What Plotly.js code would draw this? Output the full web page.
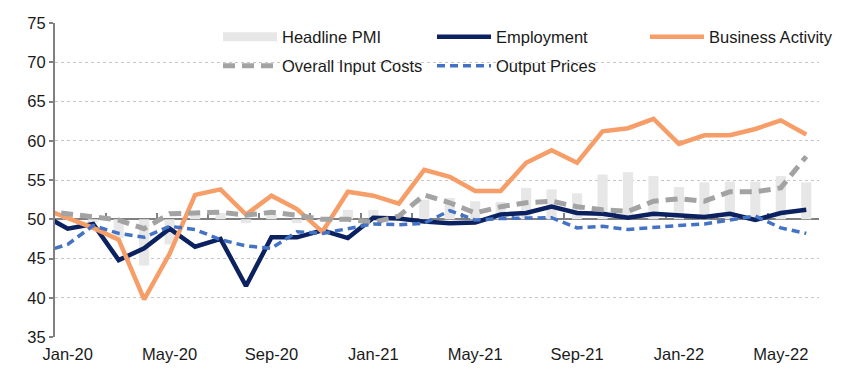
<!DOCTYPE html>
<html><head><meta charset="utf-8">
<script src="https://cdn.plot.ly/plotly-3.0.1.min.js"></script>
<style>html,body{margin:0;padding:0;background:#fff}#chart{width:855px;height:375px}</style>
</head><body><div id="chart"></div>
<script>
const months = ["Dec-19","Jan-20","Feb-20","Mar-20","Apr-20","May-20","Jun-20","Jul-20","Aug-20","Sep-20","Oct-20","Nov-20","Dec-20","Jan-21","Feb-21","Mar-21","Apr-21","May-21","Jun-21","Jul-21","Aug-21","Sep-21","Oct-21","Nov-21","Dec-21","Jan-22","Feb-22","Mar-22","Apr-22","May-22","Jun-22"];
const tickLabels = ["Jan-20","May-20","Sep-20","Jan-21","May-21","Sep-21","Jan-22","May-22"];
const headlinePMI = [null,50.4,49.6,47.6,44.1,46.8,50.6,50.8,49.5,50.7,49.5,49.8,51.2,51.2,50.6,52.5,52.7,52.3,52.2,54.0,53.8,53.3,55.7,56.0,55.5,54.1,54.7,54.8,54.8,55.5,54.7];
const employment = [50.6,48.8,49.4,44.8,46.3,48.8,46.5,47.5,41.5,47.7,47.7,48.6,47.6,50.2,50.1,49.7,49.5,49.6,50.6,50.8,51.6,50.8,50.7,50.2,50.7,50.5,50.3,50.7,49.9,50.8,51.2];
const businessActivity = [51.4,50.2,48.9,47.4,39.8,45.6,53.1,53.8,50.6,53.0,51.3,48.4,53.5,53.0,52.0,56.3,55.4,53.6,53.6,57.2,58.8,57.2,61.2,61.6,62.8,59.6,60.7,60.7,61.5,62.6,60.8];
const inputCosts = [51.1,50.7,50.2,49.9,48.8,50.7,50.8,50.9,50.5,50.9,50.5,50.0,50.0,49.6,50.4,53.1,52.1,50.8,51.6,52.1,52.3,51.6,51.2,51.0,52.3,52.6,52.3,53.5,53.5,54.0,58.0];
const outputPrices = [45.8,46.8,49.2,48.2,47.7,49.1,48.7,47.4,46.6,46.3,48.4,48.2,48.8,49.4,49.3,49.5,51.1,49.9,50.1,50.2,50.2,48.9,49.1,48.7,49.0,49.2,49.4,49.9,50.4,48.9,48.2];

const baseline = 50;
const yMin = 35, yMax = 75;
const FONT = 'Arial, "Liberation Sans", sans-serif';

const traces = [
  {type:'bar', name:'Headline PMI', x:months, y:headlinePMI.map(v => v == null ? null : v - baseline), base:baseline,
   marker:{color:'#e7e7e7'}, showlegend:false, hoverinfo:'skip'},
  {type:'scatter', mode:'lines', name:'Headline PMI', x:[months[1]], y:[null], line:{color:'#e7e7e7', width:9}, legend:'legend'},
  {type:'scatter', mode:'lines', name:'Employment', x:months, y:employment, line:{color:'#0b2160', width:4.5}, legend:'legend2'},
  {type:'scatter', mode:'lines', name:'Business Activity', x:months, y:businessActivity, line:{color:'#f79d68', width:4.5}, legend:'legend3'},
  {type:'scatter', mode:'lines', name:'Overall Input Costs', x:months, y:inputCosts, line:{color:'#a3a3a3', width:5, dash:'12px,7px'}, legend:'legend4'},
  {type:'scatter', mode:'lines', name:'Output Prices', x:months, y:outputPrices, line:{color:'#4472c4', width:3.5, dash:'8px,5px'}, legend:'legend5'},
  {type:'scatter', mode:'lines', x:[1], y:[null], xaxis:'x2', showlegend:false, hoverinfo:'skip'}
];

function leg(x, y) {
  return {orientation:'h', x:x, y:y, xanchor:'left', yanchor:'middle', itemwidth:54,
    font:{family:FONT, size:16.5, color:'#1a1a1a'}, bgcolor:'rgba(0,0,0,0)', borderwidth:0};
}
const row1 = 0.955, row2 = 0.863;
const col1 = (223 - 60) / 764, col2 = (437 - 60) / 764, col3 = (650 - 60) / 764;

const layout = {
  width:855, height:375,
  margin:{l:55, r:36, t:23, b:38},
  paper_bgcolor:'#ffffff', plot_bgcolor:'#ffffff',
  font:{family:FONT, size:16.5, color:'#1a1a1a'},
  bargap:0.6,
  showlegend:true,
  xaxis:{type:'category', range:[0.5, months.length - 0.5], tickmode:'array', tickvals:tickLabels, ticktext:tickLabels,
         showline:false, showgrid:false, zeroline:false, ticks:'', ticklabelstandoff:5, tickfont:{size:16.5, color:'#1a1a1a'}},
  xaxis2:{overlaying:'x', anchor:'free', position:(baseline - yMin) / (yMax - yMin), type:'linear',
          range:[0.5, months.length - 0.5], showline:true, linecolor:'#808080', linewidth:2,
          ticks:'inside', ticklen:5, tickwidth:2, tickcolor:'#808080', tickmode:'linear', tick0:0.5, dtick:2,
          showticklabels:false, showgrid:false, zeroline:false, layer:'below traces'},
  yaxis:{range:[yMin, yMax], tickmode:'linear', tick0:35, dtick:5, showline:true, linecolor:'#808080', linewidth:2,
         ticks:'outside', ticklen:4, tickwidth:2, tickcolor:'#808080', showgrid:true, gridcolor:'#c6c6c6',
         griddash:'dot', gridwidth:1, zeroline:false, tickfont:{size:16.5, color:'#1a1a1a'}},
  legend:leg(col1, row1),
  legend2:leg(col2, row1),
  legend3:leg(col3, row1),
  legend4:leg(col1, row2),
  legend5:leg(col2, row2)
};

Plotly.newPlot('chart', traces, layout, {displayModeBar:false, staticPlot:true});
</script>
</body></html>
